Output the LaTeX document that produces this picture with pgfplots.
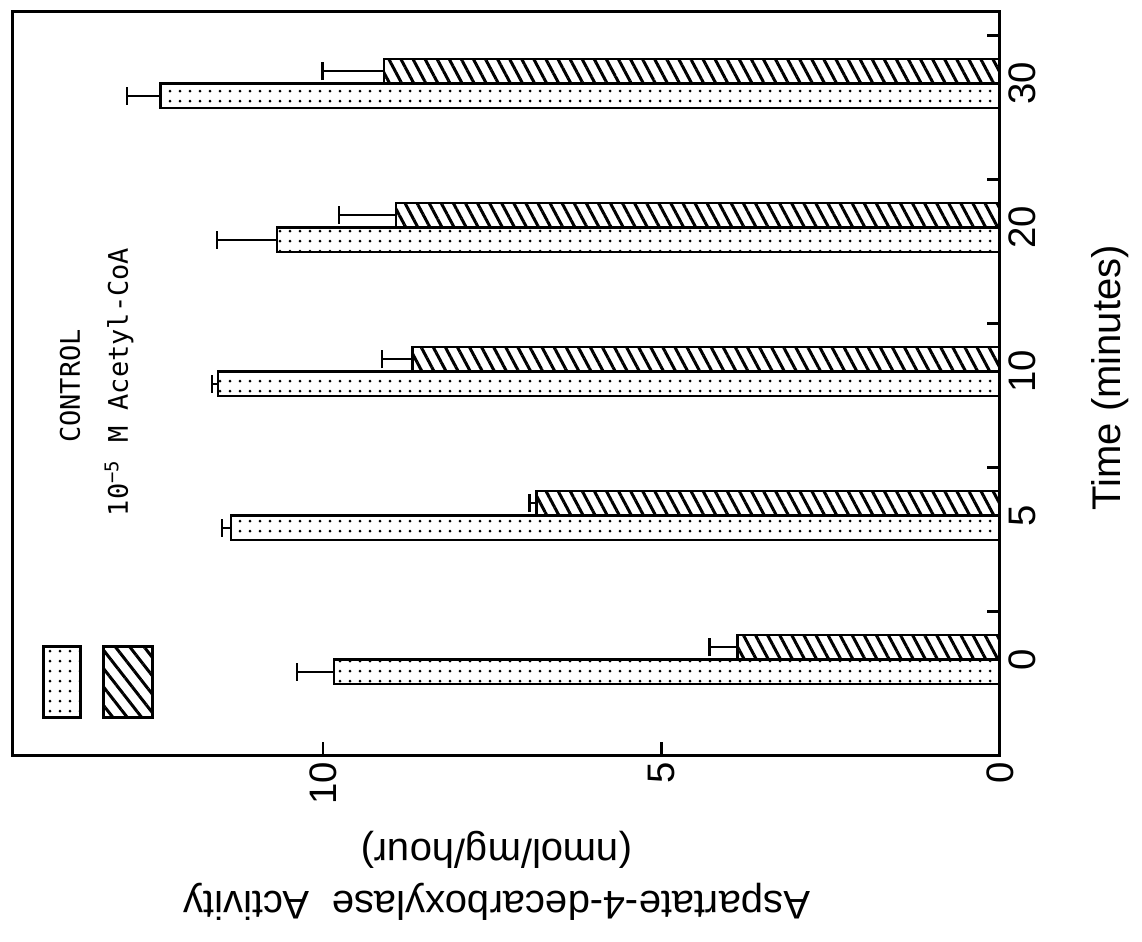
\documentclass[border=0pt]{standalone}
\usepackage{fontspec}
\setmainfont{Liberation Sans}
\newfontfamily\legfont{DejaVu Sans Mono}
\usepackage{pgfplots}
\pgfplotsset{compat=1.18}
\usetikzlibrary{patterns.meta}
\begin{document}
\begin{tikzpicture}
\path[use as bounding box] (-3.9pt,-55.8pt) rectangle (338.7pt,226.5pt);
\begin{axis}[
  at={(0,0)}, anchor=south west,
  width=296.1pt, height=223.2pt, scale only axis,
  xbar, bar width=0.17,
  x dir=reverse,
  xmin=0, xmax=14.58,
  ymin=-0.663, ymax=4.503,
  axis line style={line width=0.9pt},
  tick align=inside,
  xtick pos=left, ytick pos=right, yticklabel pos=right,
  xtick={0,5,10},
  major tick length=3.8pt,
  tick style={line width=0.8pt, black},
  ytick={0.3333,1.3333,2.3333,3.3333,4.3333},
  yticklabels={,,,,},
  extra y ticks={0,1,2,3,4},
  extra y tick labels={0,5,10,20,30},
  extra y tick style={major tick length=0pt},
  /pgf/number format/assume math mode=true,
  tick label style={font=\fontsize{11.5}{13.5}\selectfont},
  xticklabel style={rotate=90, anchor=east, inner sep=2pt},
  yticklabel style={rotate=90, anchor=north, inner sep=2.5pt},
  every axis x label/.style={at={(axis description cs:0.49,-0.163)}, rotate=180, anchor=center, align=center, font=\fontsize{12}{14.4}\selectfont},
  every axis y label/.style={at={(axis description cs:1.1115,0.507)}, rotate=90, anchor=center, font=\fontsize{12}{14.4}\selectfont},
  xlabel={Aspartate-4-decarboxylase\ \ Activity\\[1.2pt](nmol/mg/hour)},
  ylabel={Time (minutes)},
  error bars/error bar style={line width=0.7pt, black},
  error bars/error mark options={line width=0.7pt, black, mark size=2.7pt, rotate=90},
]
% CONTROL
\addplot[draw=black, line width=0.8pt, pattern={Dots[distance=3pt, radius=0.45pt]}, bar shift=-0.085,
  error bars/.cd, x dir=plus, x explicit]
  coordinates {(9.84,0) +- (0.54,0) (11.36,1) +- (0.13,0) (11.55,2) +- (0.09,0) (10.68,3) +- (0.89,0) (12.40,4) +- (0.50,0)};
% 10^-5 M Acetyl-CoA
\addplot[draw=black, line width=0.8pt, pattern={Lines[angle=-62, distance=3.2pt, line width=0.9pt]}, bar shift=0.085,
  error bars/.cd, x dir=plus, x explicit]
  coordinates {(3.88,0) +- (0.41,0) (6.85,1) +- (0.10,0) (8.68,2) +- (0.45,0) (8.92,3) +- (0.84,0) (9.10,4) +- (0.91,0)};
\end{axis}
% legend
\draw[line width=0.9pt, pattern={Dots[distance=3pt, radius=0.45pt]}] (9.3pt,11.4pt) rectangle (20.4pt,32.7pt);
\draw[line width=0.9pt, pattern={Lines[angle=-52, distance=3.4pt, line width=0.9pt]}] (27.3pt,11.4pt) rectangle (41.7pt,32.7pt);
\node[rotate=90, font=\legfont\fontsize{8.1}{9.5}\selectfont] at (17.1pt,110.7pt) {CONTROL};
\node[rotate=90, font=\legfont\fontsize{8.1}{9.5}\selectfont] at (31.8pt,111.9pt) {10\textsuperscript{\char"2212 5} M Acetyl-CoA};
\end{tikzpicture}
\end{document}
